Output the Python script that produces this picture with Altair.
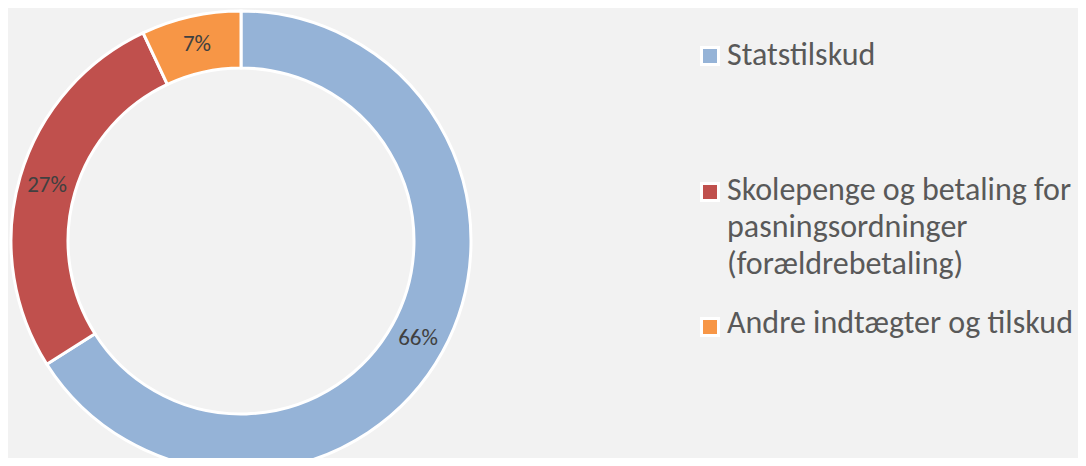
import altair as alt
import pandas as pd

categories = ["Statstilskud", "Skolepenge og betaling for pasningsordninger (forældrebetaling)", "Andre indtægter og tilskud"]
legend_lines = ["Statstilskud", "Skolepenge og betaling for\npasningsordninger\n(forældrebetaling)", "Andre indtægter og tilskud"]
shares = [66, 27, 7]
labels = ["66%", "27%", "7%"]
colors = ["#95B3D7", "#C0504D", "#F79646"]

FONT = "Carlito, Calibri, Open Sans"

df = pd.DataFrame({
    "category": categories,
    "share": shares,
    "label": labels,
    "idx": list(range(len(categories))),
    "legend": legend_lines,
})

cx, cy = 233, 233
color_scale = alt.Scale(domain=categories, range=colors)

base = alt.Chart(df).encode(
    theta=alt.Theta("share:Q", stack=True),
    order=alt.Order("idx:O"),
    x=alt.value(cx),
    y=alt.value(cy),
)

arcs = base.mark_arc(outerRadius=230, innerRadius=173, stroke="white", strokeWidth=3).encode(
    color=alt.Color("category:N", scale=color_scale, legend=None)
)

pct = base.mark_text(radius=202, font=FONT, fontSize=23, color="#404040").encode(
    text="label:N"
)

# manual legend (layout positions only)
leg_sq_y = [48, 184, 319]
leg_txt_y = [57, 192, 325]
layers = [arcs, pct]
for i, cat in enumerate(categories):
    sub = alt.Chart(df).transform_filter(alt.datum.idx == i)
    layers.append(
        sub.mark_square(size=289, stroke="white", strokeWidth=3, opacity=1).encode(
            x=alt.value(702), y=alt.value(leg_sq_y[i]),
            color=alt.Color("category:N", scale=color_scale, legend=None),
        )
    )
    layers.append(
        sub.mark_text(align="left", baseline="alphabetic", font=FONT, fontSize=32,
                      color="#595959", lineBreak="\n", lineHeight=37).encode(
            x=alt.value(719), y=alt.value(leg_txt_y[i]), text="legend:N"
        )
    )

chart = alt.layer(*layers).properties(
    width=1070, height=450, padding=0, autosize=alt.AutoSizeParams(type="none")
).configure(background="#f2f2f2").configure_view(stroke=None)

chart.save("out.html", embed_options={"renderer": "svg", "actions": False})
